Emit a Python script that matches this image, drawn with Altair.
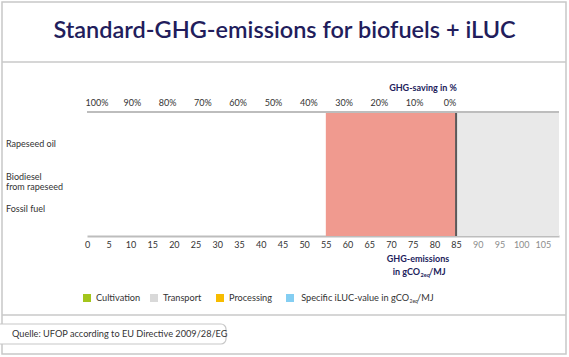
import altair as alt
import pandas as pd

# ---------------- data ----------------
title_text = "Standard-GHG-emissions for biofuels + iLUC"
fuels = ["Rapeseed oil", "Biodiesel\nfrom rapeseed", "Fossil fuel"]
band_start = [55, 85]
band_end = [85, 108.7]
band_color = ["#F09A8F", "#E9E9E9"]
fossil_reference = [85]
emission_ticks = [0, 5, 10, 15, 20, 25, 30, 35, 40, 45, 50, 55, 60, 65, 70, 75, 80, 85, 90, 95, 100, 105]
saving_ticks = [100, 90, 80, 70, 60, 50, 40, 30, 20, 10, 0]
saving_labels = ["100%", "90%", "80%", "70%", "60%", "50%", "40%", "30%", "20%", "10%", "0%"]
legend_labels = ["Cultivation", "Transport", "Processing", "Specific iLUC-value in gCO"]
legend_colors = ["#A3C51C", "#D9D9D9", "#F7BC00", "#84CEF2"]
source_text = "Quelle: UFOP according to EU Directive 2009/28/EG"

FONT = "Lato"
NAVY = "#221D5C"
TXT = "#333333"
FRAME = "#C8C8C8"
W, H = 472, 124

xs = alt.Scale(domain=[0, 108.7], nice=False, zero=False)

bands = pd.DataFrame({"start": band_start, "end": band_end, "color": band_color})
band_layer = alt.Chart(bands).mark_rect().encode(
    x=alt.X("start:Q", scale=xs, axis=alt.Axis(
        orient="bottom", values=emission_ticks, title=None, grid=False, ticks=False,
        domainColor="#BDBDBD", domainWidth=2, labelFont=FONT, labelFontSize=9,
        labelColor={"condition": {"test": "datum.value > 85", "value": "#8C8C8C"}, "value": TXT},
        labelPadding=4, labelFlush=False, labelOverlap=False)),
    x2="end:Q",
    color=alt.Color("color:N", scale=None),
)

ref_layer = alt.Chart(pd.DataFrame({"v": fossil_reference})).mark_rule(
    color="#5A5A5A", strokeWidth=2).encode(x=alt.X("v:Q", scale=xs, axis=None))

one = pd.DataFrame({"a": [0]})
top_line = alt.Chart(one).mark_rule(color="#BDBDBD", strokeWidth=2).encode(
    x=alt.value(0), x2=alt.value(W), y=alt.value(0))

sav = pd.DataFrame({"s": saving_ticks, "lab": saving_labels})
top_labels = alt.Chart(sav).mark_text(font=FONT, fontSize=9, color=TXT, baseline="middle").encode(
    x=alt.X("s:Q", scale=alt.Scale(domain=[100, 0], range=[10, 363], nice=False, zero=False), axis=None),
    y=alt.value(-9),
    text="lab:N",
)

fuel_df = pd.DataFrame({"fuel": fuels})
fuel_labels = alt.Chart(fuel_df).mark_text(
    font=FONT, fontSize=9, color=TXT, align="left", baseline="middle", lineBreak="\n", lineHeight=10
).encode(
    y=alt.Y("fuel:N", scale=alt.Scale(type="point", domain=fuels, range=[32, 97], padding=0), axis=None),
    x=alt.value(-81),
    text="fuel:N",
)


def txt(text, x, y, **kw):
    return alt.Chart(pd.DataFrame({"t": [text]})).mark_text(**kw).encode(
        x=alt.value(x), y=alt.value(y), text="t:N")


def box(x, x2, y, y2, **kw):
    return alt.Chart(one).mark_rect(**kw).encode(
        x=alt.value(x), x2=alt.value(x2), y=alt.value(y), y2=alt.value(y2))


def hline(x, x2, y):
    return alt.Chart(one).mark_rule(color=FRAME, strokeWidth=1.5).encode(
        x=alt.value(x), x2=alt.value(x2), y=alt.value(y))


layers = [
    box(-85, 479, -110, 242, fillOpacity=0, stroke=FRAME, strokeWidth=1.5),
    hline(-85, 479, -50),
    hline(-85, 479, 203),
    box(-95, 139, 212, 232, fill="white", stroke=FRAME, strokeWidth=1.2, cornerRadius=5),
    txt(source_text, -75, 222, font=FONT, fontSize=9.2, color=TXT, align="left", baseline="middle"),
    txt(title_text, 197.5, -81, font=FONT, fontSize=23.5, fontWeight=600, color=NAVY,
        align="center", baseline="middle"),
    band_layer,
    ref_layer,
    top_line,
    top_labels,
    fuel_labels,
    txt("GHG-saving in %", 336, -24, font=FONT, fontSize=9, fontWeight="bold", color=NAVY,
        align="center", baseline="middle"),
    txt("GHG-emissions", 331, 147, font=FONT, fontSize=9, fontWeight="bold", color=NAVY,
        align="center", baseline="middle"),
    txt("in gCO", 333, 160, font=FONT, fontSize=9, fontWeight="bold", color=NAVY,
        align="right", baseline="middle"),
    txt("2eq", 333.5, 162.5, font=FONT, fontSize=5.5, fontWeight="bold", color=NAVY,
        align="left", baseline="middle"),
    txt("/MJ", 342, 160, font=FONT, fontSize=9, fontWeight="bold", color=NAVY,
        align="left", baseline="middle"),
]

# legend
legend_x = [0, 67, 133, 203]
for i, (lab, col, lx) in enumerate(zip(legend_labels, legend_colors, legend_x)):
    layers.append(box(lx - 4, lx + 4, 182, 190, fill=col))
    if i < len(legend_labels) - 1:
        layers.append(txt(lab, lx + 9, 186, font=FONT, fontSize=9.2, color=TXT,
                          align="left", baseline="middle"))
    else:
        layers.append(txt(lab, 322, 186, font=FONT, fontSize=9.2, color=TXT,
                          align="right", baseline="middle"))
layers.append(txt("2eq", 322.5, 188.5, font=FONT, fontSize=5, color=TXT, align="left", baseline="middle"))
layers.append(txt("/MJ", 330, 186, font=FONT, fontSize=9.2, color=TXT, align="left", baseline="middle"))

chart = alt.layer(*layers).resolve_scale(x="independent").properties(
    width=W, height=H,
    padding={"left": 87, "top": 112, "right": 10, "bottom": 121},
    autosize="none",
).configure_view(stroke=None)

chart.save("out.html", embed_options={"renderer": "svg", "actions": False})
